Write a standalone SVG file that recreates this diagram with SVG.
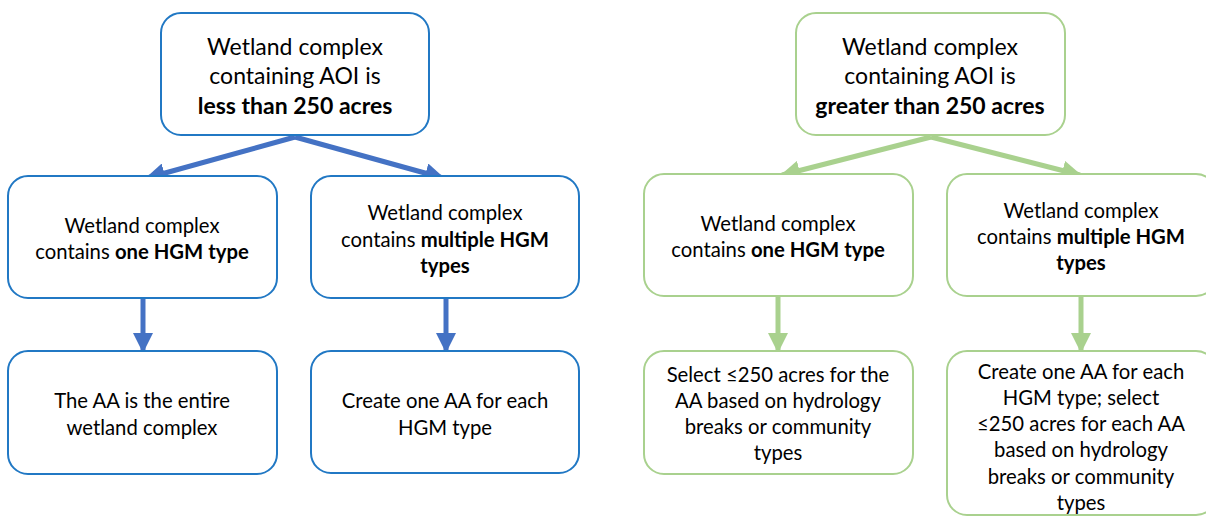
<svg xmlns="http://www.w3.org/2000/svg" width="1206" height="516" viewBox="0 0 1206 516">
<defs>
<style>
.b{fill:#fff;stroke:#2178C4;stroke-width:2}
.g{fill:#fff;stroke:#A9D18E;stroke-width:2}
text{font-family:Lato,"Liberation Sans",sans-serif;fill:#000;text-anchor:middle}
.t1{font-size:23px}
.t2{font-size:20.3px}
.bd{font-weight:bold}
.ab{stroke:#4472C4;stroke-width:5;fill:none}
.ag{stroke:#A9D18E;stroke-width:5;fill:none}
</style>
<marker id="mb" viewBox="0 0 10 10" refX="9" refY="5" markerWidth="4" markerHeight="4" markerUnits="strokeWidth" orient="auto"><path d="M0,0L10,5L0,10z" fill="#4472C4"/></marker>
<marker id="mg" viewBox="0 0 10 10" refX="9" refY="5" markerWidth="4" markerHeight="4" markerUnits="strokeWidth" orient="auto"><path d="M0,0L10,5L0,10z" fill="#A9D18E"/></marker>
</defs>
<g id="connectors">
<path class="ab" marker-end="url(#mb)" d="M295,137L147,178"/>
<path class="ab" marker-end="url(#mb)" d="M295,137L443,178"/>
<path class="ab" marker-end="url(#mb)" d="M143,298L143,351"/>
<path class="ab" marker-end="url(#mb)" d="M446,298L446,351"/>
<path class="ag" marker-end="url(#mg)" d="M931,137L782,175"/>
<path class="ag" marker-end="url(#mg)" d="M931,137L1080,175"/>
<path class="ag" marker-end="url(#mg)" d="M778,296L778,351"/>
<path class="ag" marker-end="url(#mg)" d="M1081,296L1081,351"/>
</g>
<g id="L0"><rect class="b" x="161" y="13" width="268" height="122" rx="20"/>
<text class="t1" x="295" y="55">Wetland complex</text>
<text class="t1" x="295" y="84">containing AOI is</text>
<text class="t1 bd" x="295" y="114">less than 250 acres</text></g>
<g id="L1"><rect class="b" x="8" y="176" width="269" height="122" rx="20"/>
<text class="t2" x="142" y="233">Wetland complex</text>
<text class="t2" x="142" y="259">contains <tspan class="bd">one HGM type</tspan></text></g>
<g id="L2"><rect class="b" x="311" y="176" width="268" height="122" rx="20"/>
<text class="t2" x="445" y="220">Wetland complex</text>
<text class="t2" x="445" y="247">contains <tspan class="bd">multiple HGM</tspan></text>
<text class="t2 bd" x="445" y="273">types</text></g>
<g id="L3"><rect class="b" x="8" y="351" width="269" height="123" rx="20"/>
<text class="t2" x="142" y="408">The AA is the entire</text>
<text class="t2" x="142" y="435">wetland complex</text></g>
<g id="L4"><rect class="b" x="311" y="351" width="268" height="122" rx="20"/>
<text class="t2" x="445" y="408">Create one AA for each</text>
<text class="t2" x="445" y="435">HGM type</text></g>
<g id="R0"><rect class="g" x="796" y="13" width="269" height="122" rx="20"/>
<text class="t1" x="930" y="55">Wetland complex</text>
<text class="t1" x="930" y="84">containing AOI is</text>
<text class="t1 bd" x="930" y="114">greater than 250 acres</text></g>
<g id="R1"><rect class="g" x="644" y="174" width="269" height="122" rx="20"/>
<text class="t2" x="778" y="231">Wetland complex</text>
<text class="t2" x="778" y="257">contains <tspan class="bd">one HGM type</tspan></text></g>
<g id="R2"><rect class="g" x="947" y="174" width="269" height="122" rx="20"/>
<text class="t2" x="1081" y="218">Wetland complex</text>
<text class="t2" x="1081" y="244">contains <tspan class="bd">multiple HGM</tspan></text>
<text class="t2 bd" x="1081" y="270">types</text></g>
<g id="R3"><rect class="g" x="644" y="351" width="269" height="123" rx="20"/>
<text class="t2" x="778" y="382">Select ≤250 acres for the</text>
<text class="t2" x="778" y="408">AA based on hydrology</text>
<text class="t2" x="778" y="434">breaks or community</text>
<text class="t2" x="778" y="460">types</text></g>
<g id="R4"><rect class="g" x="947" y="351" width="269" height="164" rx="20"/>
<text class="t2" x="1081" y="379">Create one AA for each</text>
<text class="t2" x="1081" y="405">HGM type; select</text>
<text class="t2" x="1081" y="431">≤250 acres for each AA</text>
<text class="t2" x="1081" y="457">based on hydrology</text>
<text class="t2" x="1081" y="484">breaks or community</text>
<text class="t2" x="1081" y="510">types</text></g>
</svg>
